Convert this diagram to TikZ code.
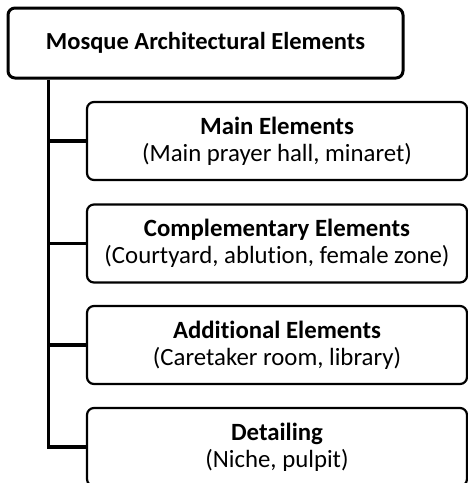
\documentclass[tikz,border=0pt]{standalone}
\usepackage{fontspec}
\setmainfont{Carlito}[Ligatures={NoCommon, NoContextual}]
\usetikzlibrary{positioning, calc}

\begin{document}
\begin{tikzpicture}[x=1pt, y=-1pt,
		headbox/.style={draw, line width=3pt, rounded corners=7pt, minimum width=395pt, minimum height=70pt, inner sep=0pt, font=\fontsize{24.5}{28}\selectfont\bfseries},
		itembox/.style={draw, line width=2.2pt, rounded corners=7pt, minimum width=380pt, minimum height=78pt, inner sep=0pt, align=center, font=\fontsize{24.8}{27}\selectfont},
		link/.style={line width=3.8pt}]
		\useasboundingbox (0, 0) rectangle (468, 483);
		\node[headbox] (head) at (205.5, 43) {Mosque Architectural Elements};
		\node[itembox] (main) at (277, 141) {\textbf{Main Elements}\\(Main prayer hall, minaret)};
		\node[itembox] (compl) at (277, 243.5) {\textbf{Complementary Elements}\\(Courtyard, ablution, female zone)};
		\node[itembox] (addit) at (277, 345) {\textbf{Additional Elements}\\(Caretaker room, library)};
		\node[itembox] (detail) at (277, 447) {\textbf{Detailing}\\(Niche, pulpit)};
		\coordinate (trunk) at (48.5, 0);
		\draw[link] (head.south -| trunk) |- (detail.west);
		\draw[link] (main.west) -- (main.west -| trunk);
		\draw[link] (compl.west) -- (compl.west -| trunk);
		\draw[link] (addit.west) -- (addit.west -| trunk);
	\end{tikzpicture}
\end{document}
